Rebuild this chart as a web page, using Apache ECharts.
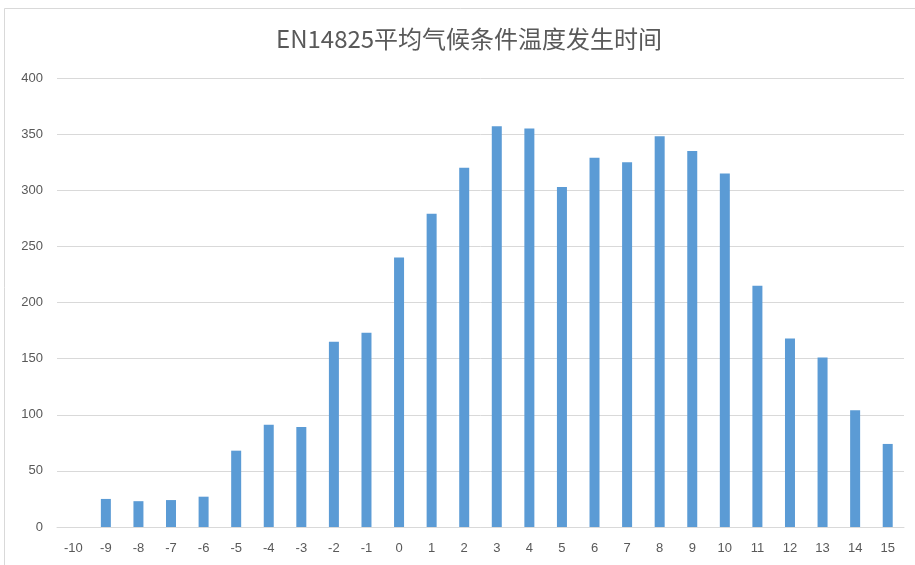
<!DOCTYPE html>
<html>
<head>
<meta charset="utf-8">
<script src="https://cdn.jsdelivr.net/npm/echarts@6/dist/echarts.min.js"></script>
<style>
  html, body { margin: 0; padding: 0; background: #fff; }
  #chart { width: 915px; height: 565px; }
</style>
</head>
<body>
<div id="chart"></div>
<script>
// Outdoor temperature bins (°C) for the EN14825 average climate
const temperatures = ['-10', '-9', '-8', '-7', '-6', '-5', '-4', '-3', '-2', '-1', '0', '1', '2',
  '3', '4', '5', '6', '7', '8', '9', '10', '11', '12', '13', '14', '15'];
// Hours of occurrence per bin
const hours = [0, 25, 23, 24, 27, 68, 91, 89, 165, 173, 240, 279, 320,
  357, 355, 303, 329, 325, 348, 335, 315, 215, 168, 151, 104, 74];
const titleText = 'EN14825平均气候条件温度发生时间';

const chart = echarts.init(document.getElementById('chart'));
chart.setOption({
  animation: false,
  backgroundColor: '#ffffff',
  title: {
    text: titleText,
    left: 271,
    top: 22,
    textStyle: {
      fontFamily: '"Noto Sans CJK SC", "Noto Sans", sans-serif',
      fontSize: 24,
      fontWeight: 'normal',
      color: '#595959'
    }
  },
  graphic: [{
    type: 'rect',
    shape: { x: 4.5, y: 8.5, width: 1000, height: 1000 },
    style: { fill: 'none', stroke: '#d9d9d9', lineWidth: 1 },
    silent: true,
    z: -1
  }],
  grid: { left: 57, right: 11, top: 78, bottom: 38, containLabel: false },
  xAxis: {
    type: 'category',
    data: temperatures,
    axisLine: { lineStyle: { color: '#d9d9d9', width: 1 } },
    axisTick: { show: false },
    axisLabel: {
      interval: 0,
      margin: 15,
      color: '#595959',
      fontSize: 13,
      fontFamily: '"Liberation Sans", "Noto Sans", sans-serif'
    }
  },
  yAxis: {
    type: 'value',
    min: 0,
    max: 400,
    interval: 50,
    axisLine: { show: false },
    axisTick: { show: false },
    splitLine: { lineStyle: { color: '#d9d9d9', width: 1 } },
    axisLabel: {
      margin: 14,
      color: '#595959',
      fontSize: 13,
      fontFamily: '"Liberation Sans", "Noto Sans", sans-serif'
    }
  },
  series: [{
    type: 'bar',
    data: hours,
    barWidth: 10,
    itemStyle: { color: '#5b9bd5' }
  }]
});
</script>
</body>
</html>
